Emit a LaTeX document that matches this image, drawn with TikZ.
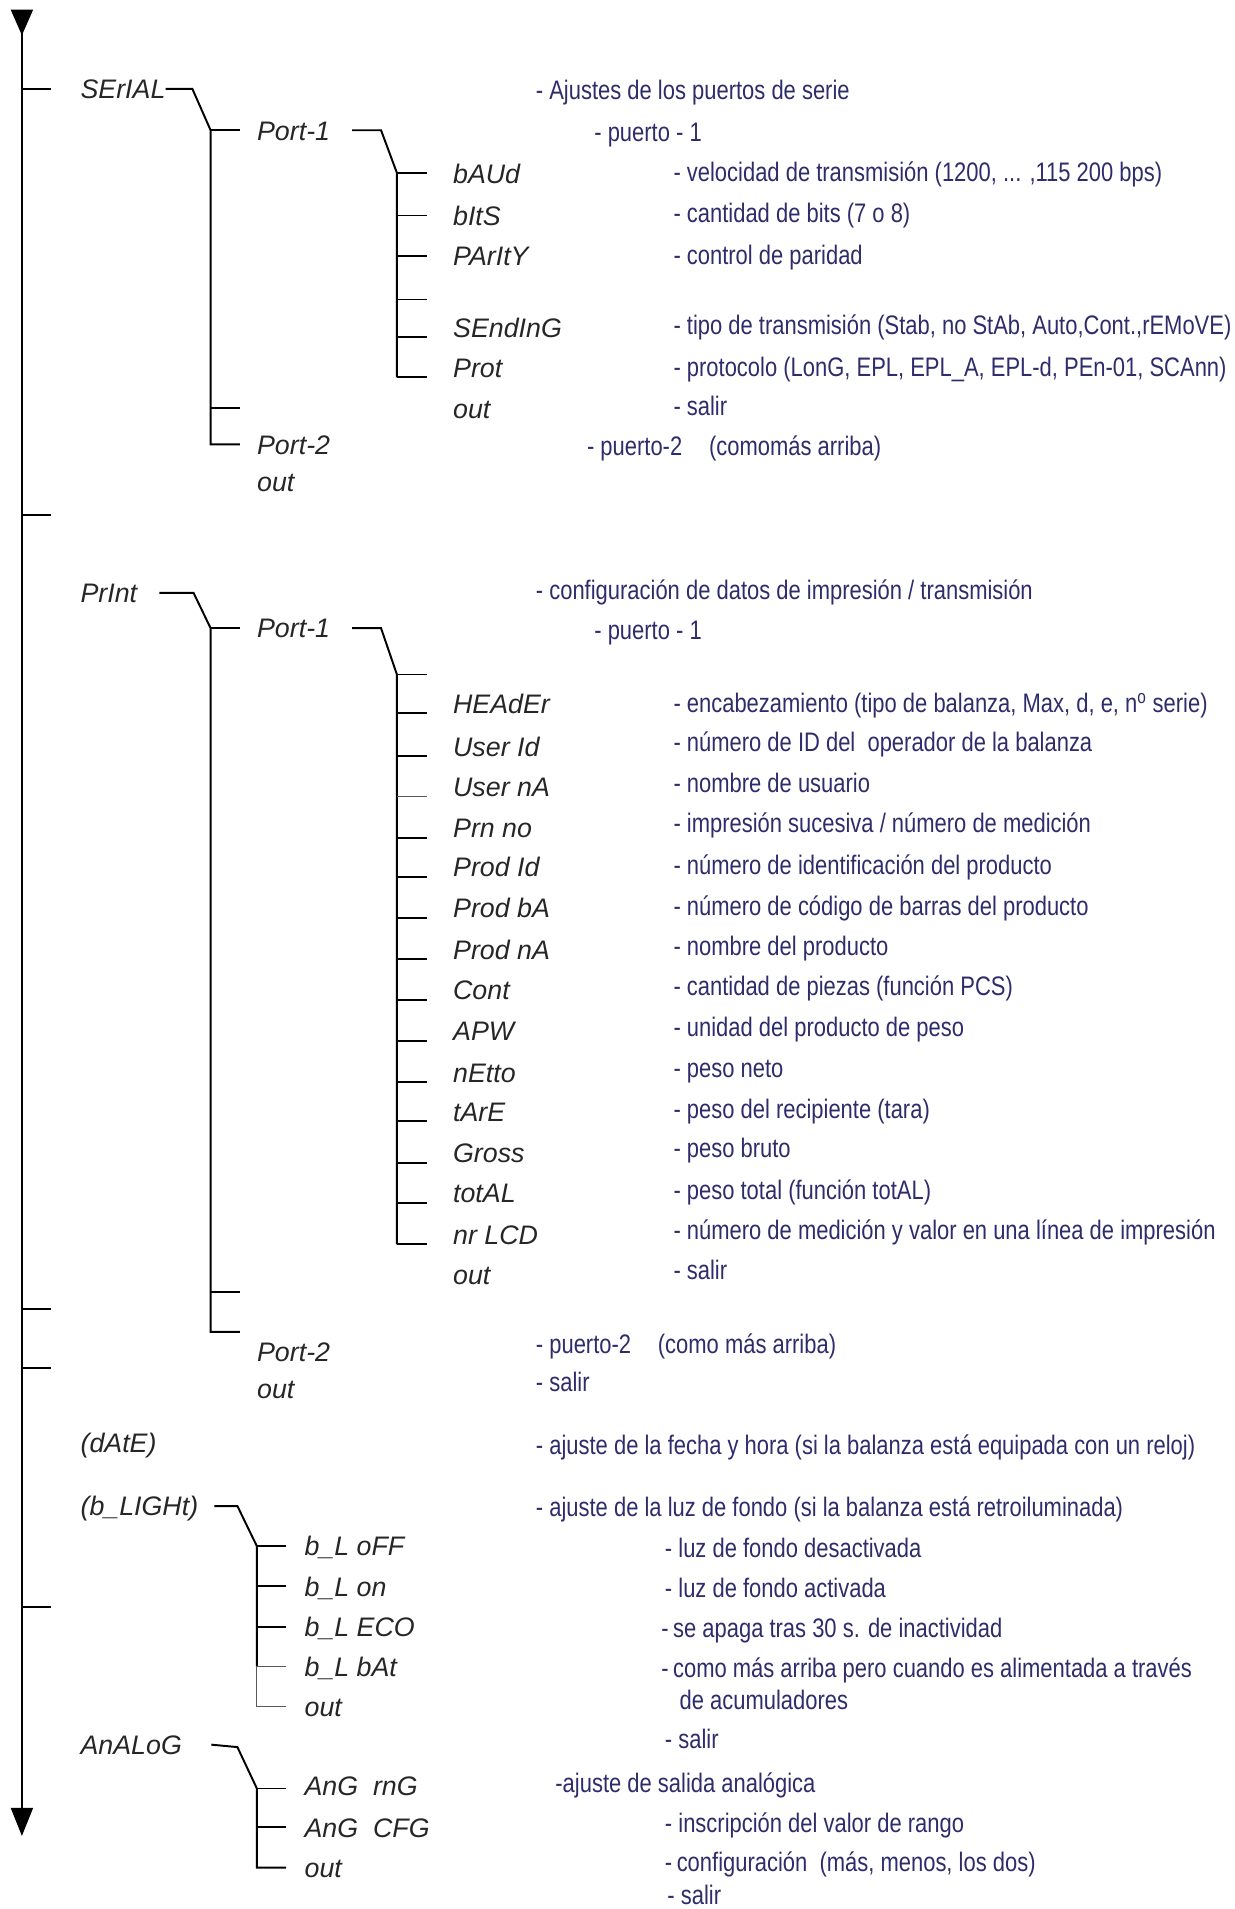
\documentclass[tikz,border=0pt]{standalone}
\usepackage{fontspec}
\setmainfont{Liberation Sans}
\newfontfamily\descfont[FakeStretch=0.82]{Liberation Sans}
\usetikzlibrary{positioning,arrows.meta}
\definecolor{descblue}{HTML}{2E2C6B}
\definecolor{menugray}{HTML}{262626}
\tikzset{
menu/.style={
  anchor=west,
  inner sep=0pt,
  text height=16pt,
  text depth=0pt,
  text=menugray,
  font=\fontsize{22}{24}\selectfont\itshape
  },
desc/.style={
  anchor=west,
  inner sep=0pt,
  text height=16pt,
  text depth=0pt,
  text=descblue,
  font=\descfont\fontsize{22}{24}\selectfont
  },
tree/.style={line width=1.6pt},
thintree/.style={line width=0.8pt,black!65}
}
\begin{document}
\begin{tikzpicture}[x=1pt,y=-1pt]
\useasboundingbox (0,0) rectangle (1014,1568);

% main axis
\coordinate (axtop) at (18,8);
\coordinate (axbot) at (18,1508);
\coordinate (tk1) at (18,423);
\coordinate (tk2) at (18,1075);
\coordinate (tk3) at (18,1124);
\coordinate (tk4) at (18,1320);

% SErIAL
\node[menu] (serial) at (66,73) {SErIAL};
\node[desc] (serialtxt) at (440,74) {- Ajustes de los puertos de serie};
\node[menu] (sport1) at (211,107) {Port-1};
\node[desc] (sport1txt) at (488,108) {- puerto - 1};
\node[menu] (baud) at (372,143) {bAUd};
\node[menu] (bits) at (372,177) {bItS};
\node[menu] (parity) at (372,210) {PArItY};
\node[menu] (sending) at (372,269) {SEndInG};
\node[menu] (prot) at (372,302) {Prot};
\node[menu] (s1out) at (372,336) {out};
\node[desc] (baudtxt) at (553,141) {- velocidad de transmisión (1200, ... ,115 200 bps)};
\node[desc] (bitstxt) at (553,175) {- cantidad de bits (7 o 8)};
\node[desc] (paritytxt) at (553,209) {- control de paridad};
\node[desc] (sendingtxt) at (553,267) {- tipo de transmisión (Stab, no StAb, Auto,Cont.,rEMoVE)};
\node[desc] (prottxt) at (553,301) {- protocolo (LonG, EPL, EPL\_A, EPL-d, PEn-01, SCAnn)};
\node[desc] (s1outtxt) at (553,333) {- salir};
\node[menu] (sport2) at (211,365) {Port-2};
\node[desc] (sport2txt) at (482,366) {- puerto-2\quad(comomás arriba)};
\node[menu] (sout) at (211,396) {out};

% PrInt
\node[menu] (print) at (66,487) {PrInt};
\node[desc] (printtxt) at (440,484) {- configuración de datos de impresión / transmisión};
\node[menu] (pport1) at (211,516) {Port-1};
\node[desc] (pport1txt) at (488,517) {- puerto - 1};
\node[menu] (header) at (372,578) {HEAdEr};
\node[menu] (userid) at (372,613) {User Id};
\node[menu] (userna) at (372,646) {User nA};
\node[menu] (prnno) at (372,680) {Prn no};
\node[menu] (prodid) at (372,712) {Prod Id};
\node[menu] (prodba) at (372,746) {Prod bA};
\node[menu] (prodna) at (372,780) {Prod nA};
\node[menu] (cont) at (372,813) {Cont};
\node[menu] (apw) at (372,847) {APW};
\node[menu] (netto) at (372,881) {nEtto};
\node[menu] (tare) at (372,913) {tArE};
\node[menu] (gross) at (372,947) {Gross};
\node[menu] (total) at (372,980) {totAL};
\node[menu] (nrlcd) at (372,1014) {nr LCD};
\node[menu] (p1out) at (372,1047) {out};
\node[desc] (headertxt) at (553,577) {- encabezamiento (tipo de balanza, Max, d, e, n\textsuperscript{o} serie)};
\node[desc] (useridtxt) at (553,609) {- número de ID del~~operador de la balanza};
\node[desc] (usernatxt) at (553,643) {- nombre de usuario};
\node[desc] (prnnotxt) at (553,676) {- impresión sucesiva / número de medición};
\node[desc] (prodidtxt) at (553,710) {- número de identificación del producto};
\node[desc] (prodbatxt) at (553,744) {- número de código de barras del producto};
\node[desc] (prodnatxt) at (553,777) {- nombre del producto};
\node[desc] (conttxt) at (553,810) {- cantidad de piezas (función PCS)};
\node[desc] (apwtxt) at (553,843) {- unidad del producto de peso};
\node[desc] (nettotxt) at (553,877) {- peso neto};
\node[desc] (taretxt) at (553,911) {- peso del recipiente (tara)};
\node[desc] (grosstxt) at (553,943) {- peso bruto};
\node[desc] (totaltxt) at (553,977) {- peso total (función totAL)};
\node[desc] (nrlcdtxt) at (553,1010) {- número de medición y valor en una línea de impresión};
\node[desc] (p1outtxt) at (553,1043) {- salir};
\node[menu] (pport2) at (211,1110) {Port-2};
\node[desc] (pport2txt) at (440,1104) {- puerto-2\quad(como más arriba)};
\node[menu] (pout) at (211,1141) {out};
\node[desc] (pouttxt) at (440,1135) {- salir};

% dAtE
\node[menu] (date) at (66,1185) {(dAtE)};
\node[desc] (datetxt) at (440,1187) {- ajuste de la fecha y hora (si la balanza está equipada con un reloj)};

% b_LIGHt
\node[menu] (blight) at (66,1237) {(b\_LIGHt)};
\node[desc] (blighttxt) at (440,1238) {- ajuste de la luz de fondo (si la balanza está retroiluminada)};
\node[menu] (bloff) at (250,1270) {b\_L oFF};
\node[menu] (blon) at (250,1303) {b\_L on};
\node[menu] (bleco) at (250,1336) {b\_L ECO};
\node[menu] (blbat) at (250,1369) {b\_L bAt};
\node[menu] (blout) at (250,1402) {out};
\node[desc] (blofftxt) at (546,1271) {- luz de fondo desactivada};
\node[desc] (blontxt) at (546,1304) {- luz de fondo activada};
\node[desc] (blecotxt) at (543,1337) {-\,se apaga tras 30 s. de inactividad};
\node[desc] (blbattxt) at (543,1370) {-\,como más arriba pero cuando es alimentada a través};
\node[desc] (blbattxtb) at (558,1396) {de acumuladores};
\node[desc] (blouttxt) at (546,1428) {- salir};

% AnALoG
\node[menu] (analog) at (66,1433) {AnALoG};
\node[desc] (analogtxt) at (456,1464) {-ajuste de salida analógica};
\node[menu] (angrng) at (250,1467) {AnG~~rnG};
\node[menu] (angcfg) at (250,1501) {AnG~~CFG};
\node[menu] (aout) at (250,1534) {out};
\node[desc] (angrngtxt) at (546,1497) {- inscripción del valor de rango};
\node[desc] (angcfgtxt) at (546,1529) {-\,configuración~~(más, menos, los dos)};
\node[desc] (aouttxt) at (548,1556) {- salir};

% axis and its ticks
\draw[tree,{Triangle[reversed,width=18pt,length=21pt]}-{Triangle[width=18pt,length=23pt]}]
  (axtop) -- (axbot);
\draw[tree] (axtop |- serial.west) -- ++(24,0);
\draw[tree] (tk1) -- ++(24,0);
\draw[tree] (tk2) -- ++(24,0);
\draw[tree] (tk3) -- ++(24,0);
\draw[tree] (tk4) -- ++(24,0);

% SErIAL branches
\coordinate (sknee) at (158,73);
\coordinate (sbar) at (173,107);
\coordinate (sgap) at (173,335);
\draw[tree] (serial.east) -- (sknee) -- (sbar) |- ([xshift=-14pt]sport2.west);
\draw[tree] (sbar) -- ++(24,0);
\draw[tree] (sgap) -- ++(24,0);

\coordinate (s1knee) at (313,107);
\coordinate (s1bar) at (326,142);
\coordinate (s1gap) at (326,246);
\draw[tree] ([xshift=18pt]sport1.east) -- (s1knee) -- (s1bar) -- (s1bar |- prot.base);
\draw[tree] (s1bar) -- ++(25,0);
\draw[tree] (s1bar |- bits.west) -- ++(25,0);
\draw[tree] (s1bar |- parity.west) -- ++(25,0);
\draw[tree] (s1gap) -- ++(25,0);
\draw[tree] (s1bar |- sending.base) -- ++(25,0);
\draw[tree] (s1bar |- prot.base) -- ++(25,0);

% PrInt branches
\coordinate (pknee) at (159,487);
\coordinate (pbar) at (173,516);
\coordinate (pgap) at (173,1061);
\coordinate (pend) at (173,1094);
\draw[tree] ([xshift=18pt]print.east) -- (pknee) -- (pbar) -- (pend) -- ++(24,0);
\draw[tree] (pbar) -- ++(24,0);
\draw[tree] (pgap) -- ++(24,0);

\coordinate (p1knee) at (313,516);
\coordinate (p1bar) at (326,554);
\draw[tree] ([xshift=18pt]pport1.east) -- (p1knee) -- (p1bar) -- (p1bar |- nrlcd.base);
\draw[tree] (p1bar) -- ++(25,0);
\draw[tree] (p1bar |- header.base) -- ++(25,0);
\draw[tree] (p1bar |- userid.base) -- ++(25,0);
\draw[thintree] (p1bar |- userna.base) -- ++(25,0);
\draw[tree] (p1bar |- prnno.base) -- ++(25,0);
\draw[tree] (p1bar |- prodid.base) -- ++(25,0);
\draw[tree] (p1bar |- prodba.base) -- ++(25,0);
\draw[tree] (p1bar |- prodna.base) -- ++(25,0);
\draw[tree] (p1bar |- cont.base) -- ++(25,0);
\draw[tree] (p1bar |- apw.base) -- ++(25,0);
\draw[tree] (p1bar |- netto.base) -- ++(25,0);
\draw[tree] (p1bar |- tare.base) -- ++(25,0);
\draw[tree] (p1bar |- gross.base) -- ++(25,0);
\draw[tree] (p1bar |- total.base) -- ++(25,0);
\draw[tree] (p1bar |- nrlcd.base) -- ++(25,0);

% b_LIGHt branches
\coordinate (bknee) at (195,1237);
\coordinate (bbar) at (211,1270);
\draw[tree] ([xshift=13pt]blight.east) -- (bknee) -- (bbar) -- (bbar |- blbat.west);
\draw[thintree] (bbar |- blbat.west) |- ([xshift=-15pt]blout.west);
\draw[tree] (bbar) -- ++(24,0);
\draw[tree] (bbar |- blon.west) -- ++(24,0);
\draw[tree] (bbar |- bleco.west) -- ++(24,0);
\draw[thintree] (bbar |- blbat.west) -- ++(24,0);

% AnALoG branches
\coordinate (aknee) at (195,1435);
\coordinate (abar) at (211,1469);
\draw[tree] ([xshift=24pt]analog.east) -- (aknee) -- (abar) |- ([xshift=-15pt]aout.west);
\draw[tree] (abar) -- ++(24,0);
\draw[tree] (abar |- angcfg.west) -- ++(24,0);
\end{tikzpicture}
\end{document}
